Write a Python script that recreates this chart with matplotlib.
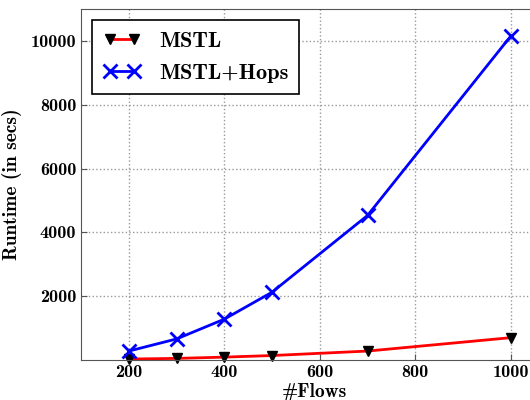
import matplotlib
matplotlib.use("Agg")
import matplotlib.pyplot as plt

flows = [200, 300, 400, 500, 700, 1000]
mstl = [30, 50, 90, 140, 280, 700]
mstl_hops = [280, 660, 1280, 2125, 4530, 10150]

x_ticks = [200, 400, 600, 800, 1000]
y_ticks = [2000, 4000, 6000, 8000, 10000]

plt.rcParams["font.family"] = ["cmb10", "DejaVu Serif"]
plt.rcParams["axes.unicode_minus"] = False

fig = plt.figure(figsize=(5.3, 4.0), dpi=100)
ax = fig.add_axes([0.153, 0.1, 0.88, 0.8775])

ax.plot(flows, mstl, color="red", lw=2, marker="v", markersize=7,
        markerfacecolor="black", markeredgecolor="black", label="MSTL", clip_on=False)
ax.plot(flows, mstl_hops, color="blue", lw=2, marker="x", markersize=10,
        markeredgewidth=2, label="MSTL+Hops", clip_on=False)

ax.set_xlim(100, 1077)
ax.set_ylim(0, 11000)
ax.set_xticks(x_ticks)
ax.set_yticks(y_ticks)
ax.tick_params(direction="in", labelsize=13, length=4, color="#555555")
ax.grid(True, linestyle=":", color="#999999", linewidth=1)

for sp in ax.spines.values():
    sp.set_color("#555555")

ax.set_xlabel("#Flows", fontsize=14, labelpad=2)
ax.set_ylabel("Runtime (in secs)", fontsize=14, labelpad=6)

leg = ax.legend(loc="upper left", fontsize=16, fancybox=False, framealpha=1,
                edgecolor="black", handlelength=1.7, numpoints=2,
                borderpad=0.5, labelspacing=0.55)
leg.get_frame().set_linewidth(1.2)

fig.savefig("out.png", dpi=100)
